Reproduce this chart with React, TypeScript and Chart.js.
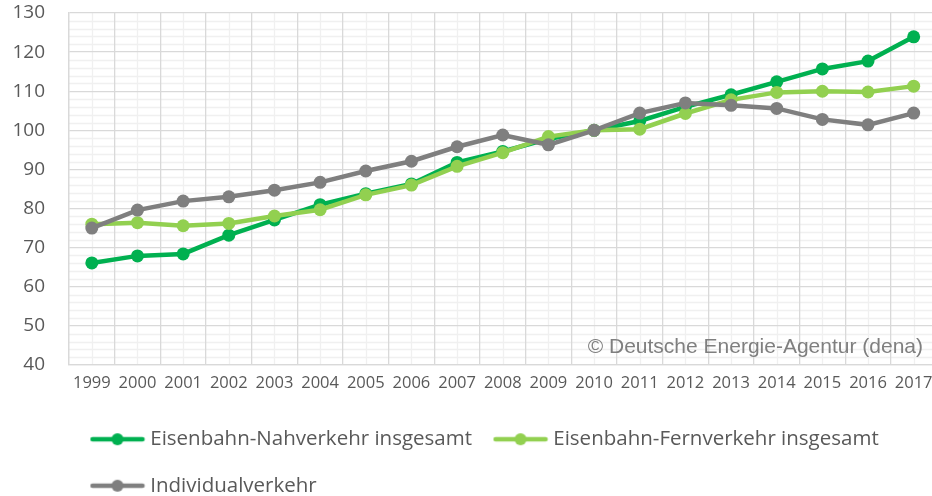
import React, { useEffect, useRef } from "react";
import { Chart, registerables } from "chart.js";

Chart.register(...registerables);

const years = ["1999","2000","2001","2002","2003","2004","2005","2006","2007","2008","2009","2010","2011","2012","2013","2014","2015","2016","2017"];
const nahverkehr = [66.1, 67.9, 68.4, 73.2, 77.1, 81.0, 83.8, 86.3, 91.8, 94.6, 97.8, 100, 102.4, 106.0, 109.1, 112.4, 115.7, 117.7, 123.9];
const fernverkehr = [76.0, 76.4, 75.6, 76.2, 78.1, 79.7, 83.5, 86.0, 90.8, 94.3, 98.4, 100, 100.3, 104.3, 107.8, 109.7, 110.0, 109.8, 111.3];
const individual = [75.0, 79.6, 81.9, 83.0, 84.7, 86.7, 89.6, 92.1, 95.8, 98.8, 96.3, 100, 104.4, 107.0, 106.4, 105.6, 102.8, 101.4, 104.4];
const seriesNames = ["Eisenbahn-Nahverkehr insgesamt", "Eisenbahn-Fernverkehr insgesamt", "Individualverkehr"];
const seriesColors = ["#00B050", "#92D050", "#7F7F7F"];
const yMin = 40;
const yMax = 130;
const yMajorStep = 10;
const yMinorStep = 2;
const watermark = "© Deutsche Energie-Agentur (dena)";

function legendImage(color: string): HTMLCanvasElement {
  const c = document.createElement("canvas");
  c.width = 56;
  c.height = 14;
  const g = c.getContext("2d")!;
  g.strokeStyle = color;
  g.lineWidth = 4.5;
  g.lineCap = "round";
  g.beginPath();
  g.moveTo(3, 7);
  g.lineTo(53, 7);
  g.stroke();
  g.fillStyle = color;
  g.beginPath();
  g.arc(28, 7, 6, 0, Math.PI * 2);
  g.fill();
  return c;
}

const minorGridPlugin = {
  id: "minorGrid",
  beforeDraw(chart: any) {
    const { ctx, chartArea, scales } = chart;
    const xs = scales.x;
    const ys = scales.y;
    ctx.save();
    ctx.strokeStyle = "#F0F0F0";
    ctx.lineWidth = 1.3;
    for (let i = 0; i < years.length; i++) {
      const px = Math.round(xs.getPixelForTick(i)) + 0.5;
      ctx.beginPath();
      ctx.moveTo(px, chartArea.top);
      ctx.lineTo(px, chartArea.bottom);
      ctx.stroke();
    }
    for (let v = yMin; v <= yMax; v += yMinorStep) {
      if (v % yMajorStep === 0) continue;
      const py = Math.round(ys.getPixelForValue(v)) + 0.5;
      ctx.beginPath();
      ctx.moveTo(chartArea.left, py);
      ctx.lineTo(chartArea.right, py);
      ctx.stroke();
    }
    ctx.restore();
  },
  afterDraw(chart: any) {
    const { ctx, chartArea } = chart;
    ctx.save();
    ctx.font = '21px "Liberation Sans", Arial, sans-serif';
    ctx.fillStyle = "#7F7F7F";
    ctx.textAlign = "right";
    ctx.textBaseline = "middle";
    ctx.fillText(watermark, 923, chartArea.bottom - 18);
    ctx.restore();
  },
};

export default function App() {
  const ref = useRef<HTMLCanvasElement | null>(null);
  useEffect(() => {
    if (!ref.current) return;
    const imgs = seriesColors.map(legendImage);
    const values = [nahverkehr, fernverkehr, individual];
    const chart = new Chart(ref.current, {
      type: "line",
      data: {
        labels: years,
        datasets: values.map((d, i) => ({
          label: seriesNames[i],
          data: d,
          borderColor: seriesColors[i],
          backgroundColor: seriesColors[i],
          borderWidth: 4.5,
          pointRadius: 6.5,
          pointBorderWidth: 0,
          pointBackgroundColor: seriesColors[i],
          tension: 0,
          order: 3 - i,
        })),
      },
      options: {
        responsive: false,
        animation: false,
        layout: { padding: { top: 13, left: 0, right: 0, bottom: 0 } },
        scales: {
          x: {
            offset: true,
            grid: {
              offset: true,
              color: "#D9D9D9",
              lineWidth: 1.3,
              drawTicks: true,
              tickLength: 8,
              tickColor: "rgba(0,0,0,0)",
            },
            border: { color: "#D9D9D9", width: 1.3 },
            ticks: {
              color: "#595959",
              font: { family: "'Open Sans'", size: 16.5 },
              padding: 0,
              autoSkip: false,
              maxRotation: 0,
            },
            afterFit: (s: any) => {
              s.height = 38;
              s.paddingLeft = 0;
              s.paddingRight = 0;
            },
          },
          y: {
            min: yMin,
            max: yMax,
            grid: {
              color: "#D9D9D9",
              lineWidth: 1.3,
              drawTicks: true,
              tickLength: 24,
              tickColor: "rgba(0,0,0,0)",
            },
            border: { color: "#D9D9D9", width: 1.3 },
            ticks: {
              stepSize: yMajorStep,
              color: "#595959",
              font: { family: "'Open Sans'", size: 19 },
              padding: 0,
            },
            afterFit: (s: any) => { s.width = 69; },
          },
        },
        plugins: {
          tooltip: { enabled: false },
          legend: {
            position: "bottom",
            fullSize: false,
            align: "start",
            labels: {
              usePointStyle: true,
              pointStyleWidth: 45,
              padding: 26,
              color: "#595959",
              font: { family: "'Open Sans'", size: 20.5 },
              sort: (a: any, b: any) => a.datasetIndex - b.datasetIndex,
              generateLabels: (c: any) =>
                Chart.defaults.plugins.legend.labels.generateLabels(c).map((l: any) => ({
                  ...l,
                  pointStyle: imgs[l.datasetIndex],
                })),
            },
          },
        },
      },
      plugins: [minorGridPlugin],
    });
    return () => chart.destroy();
  }, []);
  return (
    <canvas
      ref={ref}
      width={943}
      height={506}
      style={{ position: "fixed", left: 0, top: 0 }}
    />
  );
}
